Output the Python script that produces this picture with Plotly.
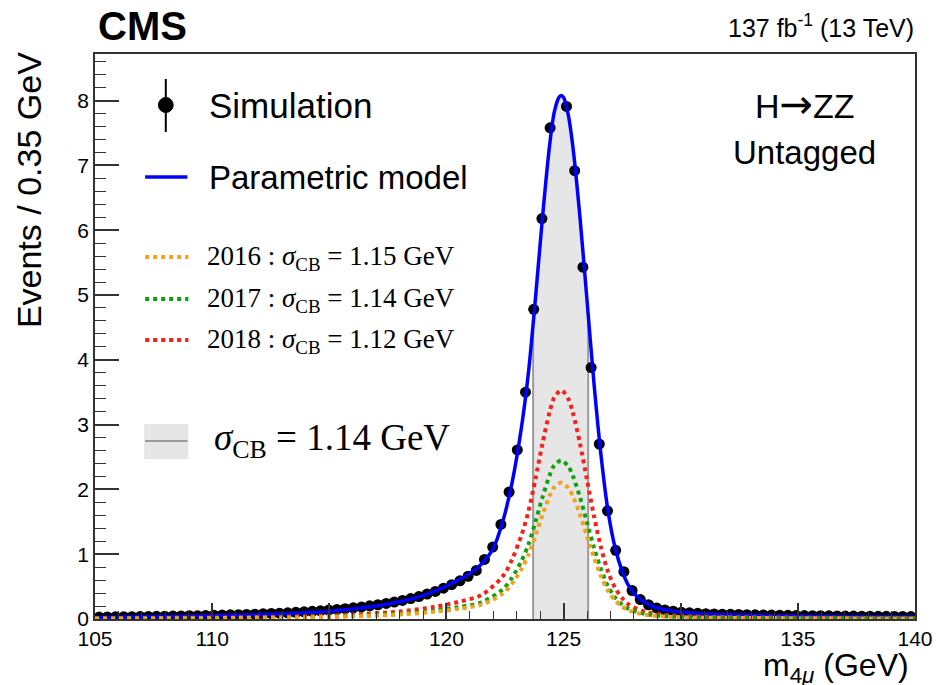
import plotly.graph_objects as go

# ---------------- data ----------------
bin_low = 105.0
bin_width = 0.35
sim_values = [
    0.030, 0.032, 0.033, 0.035, 0.036, 0.038, 0.040, 0.041, 0.043, 0.045,
    0.047, 0.050, 0.052, 0.055, 0.058, 0.060, 0.064, 0.067, 0.071, 0.075,
    0.080, 0.085, 0.090, 0.096, 0.103, 0.110, 0.118, 0.127, 0.137, 0.148,
    0.160, 0.173, 0.187, 0.203, 0.220, 0.240, 0.262, 0.287, 0.315, 0.347,
    0.384, 0.426, 0.475, 0.530, 0.590, 0.660, 0.750, 0.920, 1.110, 1.460,
    1.960, 2.610, 3.500, 4.780, 6.180, 7.580, None, 7.910, 6.920, 5.430,
    3.880, 2.700, 1.670, 1.060, 0.730, 0.440, 0.300, 0.220, 0.170, 0.140,
    0.120, 0.105, 0.095, 0.088, 0.082, 0.078, 0.075, 0.072, 0.070, 0.067,
    0.065, 0.062, 0.060, 0.058, 0.056, 0.055, 0.053, 0.052, 0.050, 0.049,
    0.048, 0.046, 0.045, 0.044, 0.043, 0.042, 0.041, 0.040, 0.039, 0.038,
]

model_x = [105, 107, 109, 111, 113, 115, 116, 117, 118, 119, 119.5, 120, 120.5,
           121, 121.5, 122, 122.4, 122.8, 123.2, 123.5, 123.8, 124.1, 124.4,
           124.6, 124.8, 124.9, 125.0, 125.2, 125.4, 125.7, 126.0, 126.3, 126.6,
           126.9, 127.2, 127.5, 127.8, 128.1, 128.5, 129, 129.5, 130, 131, 132,
           134, 136, 138, 140]
model_y = [0.025, 0.033, 0.043, 0.057, 0.08, 0.12, 0.155, 0.2, 0.265, 0.36, 0.43,
           0.51, 0.6, 0.7, 0.85, 1.09, 1.5, 2.1, 2.95, 3.8, 4.95, 6.2, 7.3, 7.82,
           8.05, 8.08, 8.05, 7.78, 7.28, 6.2, 4.92, 3.63, 2.52, 1.66, 1.1, 0.74,
           0.5, 0.36, 0.25, 0.17, 0.13, 0.105, 0.08, 0.066, 0.052, 0.043, 0.036,
           0.03]

year_x = [105, 108, 111, 114, 116, 118, 119.5, 120.5, 121.5, 122.4, 122.8, 123.2,
          123.5, 123.8, 124.1, 124.4, 124.6, 124.9, 125.2, 125.4, 125.7, 126.0,
          126.3, 126.6, 126.9, 127.2, 127.5, 127.8, 128.5, 129.5, 131, 134, 137,
          140]
y2018 = [0.011, 0.017, 0.025, 0.044, 0.068, 0.116, 0.188, 0.262, 0.371, 0.656,
         0.918, 1.289, 1.661, 2.163, 2.709, 3.19, 3.417, 3.531, 3.4, 3.181, 2.709,
         2.15, 1.586, 1.101, 0.725, 0.481, 0.323, 0.219, 0.109, 0.057, 0.035,
         0.023, 0.017, 0.013]
y2017 = [0.008, 0.012, 0.017, 0.030, 0.047, 0.080, 0.130, 0.182, 0.258, 0.455,
         0.636, 0.894, 1.151, 1.5, 1.879, 2.212, 2.369, 2.448, 2.357, 2.206, 1.879,
         1.491, 1.1, 0.764, 0.503, 0.333, 0.224, 0.152, 0.076, 0.039, 0.024,
         0.016, 0.012, 0.009]
y2016 = [0.007, 0.010, 0.015, 0.026, 0.040, 0.069, 0.112, 0.156, 0.221, 0.39,
         0.546, 0.767, 0.988, 1.287, 1.612, 1.898, 2.033, 2.101, 2.023, 1.893,
         1.612, 1.279, 0.944, 0.655, 0.432, 0.286, 0.192, 0.13, 0.065, 0.034,
         0.021, 0.014, 0.010, 0.008]

band_lo, band_hi = 123.7, 126.05
band_lo_h, band_hi_h = 4.45, 4.6

x_ticks = [105, 110, 115, 120, 125, 130, 135, 140]
year_labels = ["2016", "2017", "2018"]
year_sigmas = ["1.15", "1.14", "1.12"]
total_sigma = "1.14"

# ---------------- styles ----------------
SANS = "Liberation Sans, Arial, sans-serif"
SERIF = "Liberation Serif, Times New Roman, serif"
BLUE = "#0000ff"
COL = {"2016": "#f5a01a", "2017": "#13a013", "2018": "#f5221a"}
AX = "#333333"

sim_x = [bin_low + bin_width * (i + 0.5) for i in range(len(sim_values))]

fig = go.Figure()

# grey sigma band (area under the model between the band edges)
bx = [band_lo] + [x for x in model_x if band_lo < x < band_hi] + [band_hi]
by = [band_lo_h] + [y for x, y in zip(model_x, model_y) if band_lo < x < band_hi] + [band_hi_h]
fig.add_trace(go.Scatter(x=bx, y=by, mode="lines", line=dict(width=0, shape="spline"),
                         fill="tozeroy", fillcolor="#e6e6e6", hoverinfo="skip"))
for xe, he in ((band_lo, band_lo_h), (band_hi, band_hi_h)):
    fig.add_trace(go.Scatter(x=[xe, xe], y=[0, he], mode="lines",
                             line=dict(color="#9a9a9a", width=2), hoverinfo="skip"))

# simulation points
fig.add_trace(go.Scatter(x=sim_x, y=sim_values, mode="markers",
                         marker=dict(color="black", size=11)))

# parametric model
fig.add_trace(go.Scatter(x=model_x, y=model_y, mode="lines",
                         line=dict(color=BLUE, width=3.5, shape="spline", smoothing=0.8)))

# per-year models
for yr, vals in (("2018", y2018), ("2017", y2017), ("2016", y2016)):
    fig.add_trace(go.Scatter(x=year_x, y=vals, mode="lines",
                             line=dict(color=COL[yr], width=4, dash="4px,4px",
                                       shape="spline", smoothing=0.8)))

# ---------------- layout ----------------
L, R, T, B = 95, 16, 54, 66
W, H = 945, 685
PW, PH = W - L - R, H - T - B


def px(x):
    return (x - L) / PW


def py(y):
    return (H - B - y) / PH


shapes = []
annotations = []

# legend: simulation
shapes.append(dict(type="line", xref="paper", yref="paper", x0=px(167), x1=px(167),
                   y0=py(79), y1=py(132), line=dict(color="black", width=2)))
shapes.append(dict(type="circle", xref="paper", yref="paper", x0=px(159.5), x1=px(174.5),
                   y0=py(112.5), y1=py(97.5), fillcolor="black", line=dict(color="black", width=1)))
annotations.append(dict(text="Simulation", x=px(209), y=py(105), xanchor="left", yanchor="middle",
                        font=dict(family=SANS, size=35, color="black")))
# legend: model
shapes.append(dict(type="line", xref="paper", yref="paper", x0=px(146), x1=px(189),
                   y0=py(177), y1=py(177), line=dict(color=BLUE, width=3.5)))
annotations.append(dict(text="Parametric model", x=px(209), y=py(177), xanchor="left", yanchor="middle",
                        font=dict(family=SANS, size=33, color="black")))
# legend: years
for yr, sg, yy in zip(year_labels, year_sigmas, (257, 299, 340)):
    shapes.append(dict(type="line", xref="paper", yref="paper", x0=px(146), x1=px(190),
                       y0=py(yy), y1=py(yy), line=dict(color=COL[yr], width=4, dash="4px,4px")))
    annotations.append(dict(text=f"{yr} : <i>σ</i><sub>CB</sub> = {sg} GeV", x=px(207), y=py(yy + 1),
                            xanchor="left", yanchor="middle",
                            font=dict(family=SERIF, size=27, color="black")))
# legend: band
shapes.append(dict(type="rect", xref="paper", yref="paper", x0=px(145), x1=px(190),
                   y0=py(459), y1=py(424), fillcolor="#e6e6e6", line=dict(width=0)))
shapes.append(dict(type="line", xref="paper", yref="paper", x0=px(146), x1=px(189),
                   y0=py(441), y1=py(441), line=dict(color="#9a9a9a", width=2)))
annotations.append(dict(text=f"<i>σ</i><sub>CB</sub> = {total_sigma} GeV", x=px(214), y=py(440),
                        xanchor="left", yanchor="middle",
                        font=dict(family=SERIF, size=37, color="black")))

# header texts
annotations.append(dict(text="<b>CMS</b>", x=px(96), y=py(26), xanchor="left", yanchor="middle",
                        font=dict(family=SANS, size=40, color="black")))
annotations.append(dict(text="137 fb<sup>-1</sup> (13 TeV)", x=px(930), y=py(26), xanchor="right",
                        yanchor="middle", font=dict(family=SANS, size=25, color="black")))
annotations.append(dict(text="H<span style='font-family:DejaVu Sans;font-size:40px'>→</span>ZZ",
                        x=px(817), y=py(104), xanchor="center", yanchor="middle",
                        font=dict(family=SANS, size=34, color="black")))
annotations.append(dict(text="Untagged", x=px(817), y=py(152), xanchor="center", yanchor="middle",
                        font=dict(family=SANS, size=33, color="black")))
# axis titles
annotations.append(dict(text="Events / 0.35 GeV", x=px(28), y=py(190), xanchor="center",
                        yanchor="middle", textangle=-90,
                        font=dict(family=SANS, size=34, color="black")))
annotations.append(dict(text="m<sub>4<i>μ</i></sub> (GeV)", x=px(925), y=py(667), xanchor="right",
                        yanchor="middle", font=dict(family=SANS, size=32, color="black")))

for a in annotations:
    a.update(xref="paper", yref="paper", showarrow=False)

fig.update_layout(
    width=W, height=H, autosize=False, margin=dict(l=L, r=R, t=T, b=B, pad=0),
    plot_bgcolor="white", paper_bgcolor="white", showlegend=False,
    shapes=shapes, annotations=annotations,
    xaxis=dict(range=[105, 140], tickmode="array", tickvals=x_ticks,
               ticktext=[str(t) for t in x_ticks], ticklabeloverflow="allow",
               ticks="inside", ticklen=16, tickwidth=1.5, tickcolor=AX,
               minor=dict(dtick=1, ticks="inside", ticklen=8, tickwidth=1.2, tickcolor=AX),
               showline=True, linecolor=AX, linewidth=1.5, mirror=True,
               showgrid=False, zeroline=False,
               tickfont=dict(family=SANS, size=21, color="black")),
    yaxis=dict(range=[0, 8.72], tick0=0, dtick=1, ticklabeloverflow="allow",
               ticks="inside", ticklen=24, tickwidth=1.5, tickcolor=AX,
               minor=dict(dtick=0.2, ticks="inside", ticklen=11, tickwidth=1.2, tickcolor=AX),
               showline=True, linecolor=AX, linewidth=1.5, mirror=True,
               showgrid=False, zeroline=False,
               tickfont=dict(family=SANS, size=21, color="black")),
)

fig.write_html("out.html",
               config={"responsive": False, "displayModeBar": False},
               post_script="document.documentElement.style.overflow='hidden';"
                           "document.body.style.margin='0';document.body.style.overflow='hidden';")
